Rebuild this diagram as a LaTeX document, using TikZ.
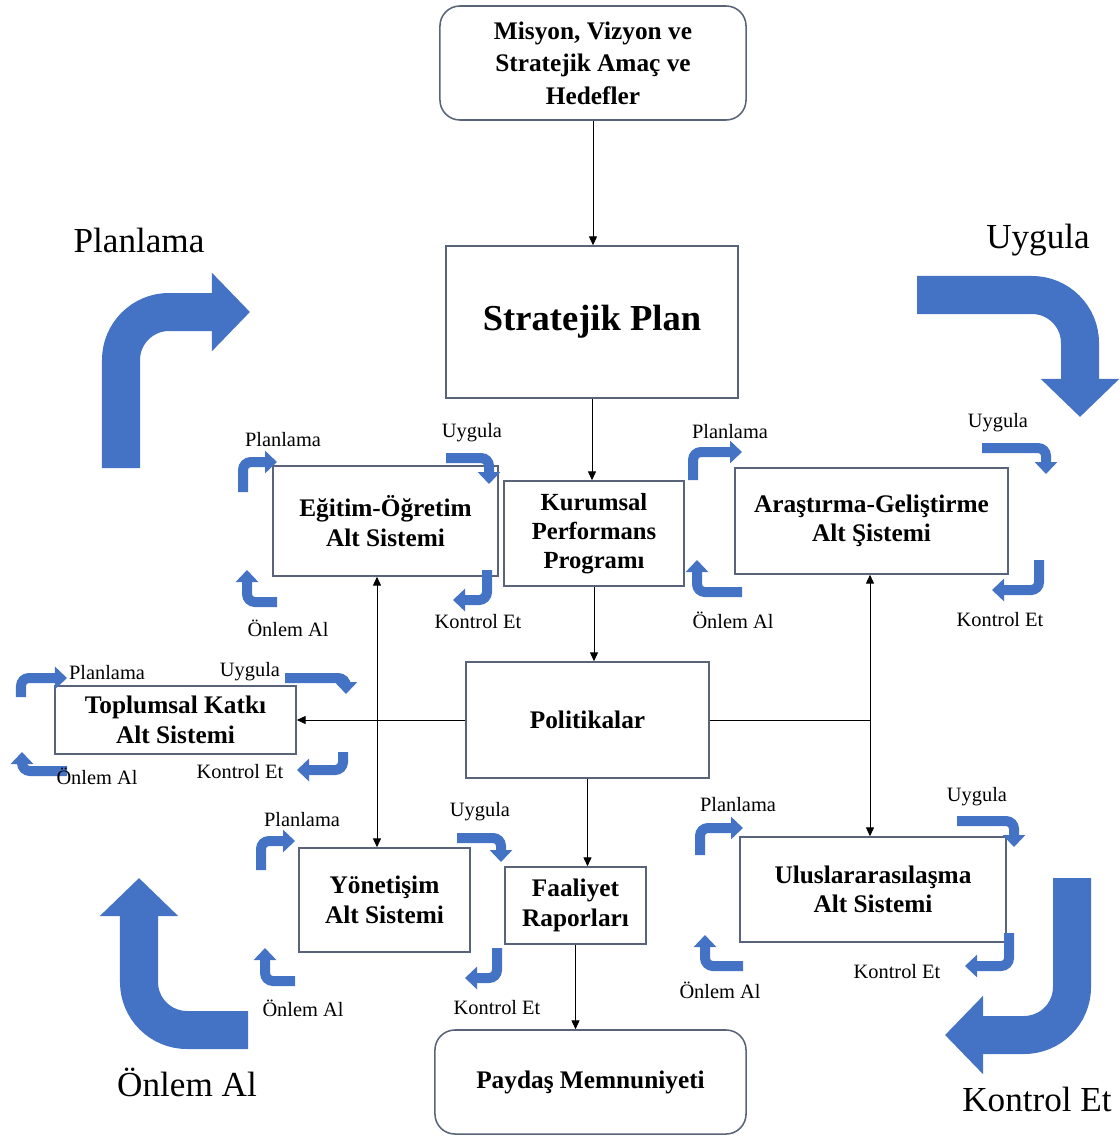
\documentclass[tikz,border=0pt]{standalone}
\usepackage{fontspec}
\setmainfont{Liberation Serif}
\usetikzlibrary{arrows.meta}
\definecolor{turnblue}{RGB}{68,114,196}
\definecolor{boxline}{RGB}{90,100,120}

\begin{document}
\begin{tikzpicture}[x=0.025cm, y=-0.025cm,
    box/.style={draw=boxline, line width=1.1pt, align=center, inner sep=2pt,
        font=\fontsize{18}{21}\selectfont\bfseries},
    rbox/.style={box, rounded corners=5mm},
    arr/.style={-{Triangle[length=2.2mm, width=2mm]}, line width=0.6pt},
    arrboth/.style={{Triangle[length=2.2mm, width=2mm]}-{Triangle[length=2.2mm, width=2mm]}, line width=0.6pt},
    smallturn/.style={draw=turnblue, line width=2.5mm, rounded corners=2mm,
        -{Triangle[length=3mm, width=5.5mm]}},
    bigturn/.style={draw=turnblue, line width=9.5mm, rounded corners=1.2cm,
        -{Triangle[length=9.5mm, width=19mm]}},
    lab/.style={font=\fontsize{14.5}{16}\selectfont},
    biglab/.style={font=\fontsize{25}{28}\selectfont}]
\useasboundingbox (0,0) rectangle (1119,1138);

% --- main column
\node[rbox, minimum width=7.65cm, minimum height=2.85cm,
    font=\fontsize{18}{23}\selectfont\bfseries] (mission) at (593,63)
    {Misyon, Vizyon ve\\Stratejik Amaç ve\\Hedefler};
\node[box, minimum width=7.3cm, minimum height=3.8cm,
    font=\fontsize{26}{30}\selectfont\bfseries] (plan) at (592,322) {Stratejik Plan};
\node[box, minimum width=4.5cm, minimum height=2.625cm,
    font=\fontsize{17.5}{20.5}\selectfont\bfseries] (kurum) at (594,533.5)
    {Kurumsal\\Performans\\Programı};
\node[box, minimum width=6.075cm, minimum height=2.9cm] (policy) at (587.5,720) {Politikalar};
\node[box, minimum width=3.525cm, minimum height=1.925cm] (report) at (575.5,905.5)
    {Faaliyet\\Raporları};
\node[rbox, minimum width=7.775cm, minimum height=2.6cm] (stake) at (590.5,1082)
    {Paydaş Memnuniyeti};

% --- sub systems
\node[box, minimum width=5.625cm, minimum height=2.75cm] (edu) at (385.5,521)
    {Eğitim-Öğretim\\Alt Sistemi};
\node[box, minimum width=6.825cm, minimum height=2.65cm] (rnd) at (871.5,521)
    {Araştırma-Geliştirme\\Alt Şistemi};
\node[box, minimum width=6.025cm, minimum height=1.7cm] (social) at (175.5,720)
    {Toplumsal Katkı\\Alt Sistemi};
\node[box, minimum width=4.275cm, minimum height=2.6cm] (gov) at (384.5,900)
    {Yönetişim\\Alt Sistemi};
\node[box, minimum width=6.65cm, minimum height=2.625cm] (intl) at (873,889.5)
    {Uluslararasılaşma\\Alt Sistemi};

% --- connectors
\draw[arr] (mission.south) -- (mission.south |- plan.north);
\draw[arr] (plan.south) -- (plan.south |- kurum.north);
\draw[arr] (kurum.south) -- (kurum.south |- policy.north);
\draw[arr] (policy.south) -- (policy.south |- report.north);
\draw[arr] (report.south) -- (report.south |- stake.north);
\draw[arr] (policy.west) -- (policy.west -| social.east);
\coordinate (jr) at (870,720);
\coordinate (jl) at (377,720);
\draw[line width=0.6pt] (policy.east) -- (jr);
\draw[arrboth] (jr |- rnd.south) -- (jr |- intl.north);
\draw[arrboth] (jl |- edu.south) -- (jl |- gov.north);

% --- cycle arrows, Eğitim-Öğretim
\draw[smallturn] (243,492) -- (243,462) -- (277,462);
\draw[smallturn] (446,458) -- (489,458) -- (489,484);
\draw[smallturn] (487,570) -- (487,600) -- (453,600);
\draw[smallturn] (277,602) -- (247,602) -- (247,570);
\node[lab] (eduP) at (283,440) {Planlama};
\node[lab] (eduU) at (472,433) {Uygula};
\node[lab] (eduK) at (478,622) {Kontrol Et};
\node[lab] (eduO) at (288,628) {Önlem Al};

% --- cycle arrows, Araştırma-Geliştirme
\draw[smallturn] (693,480) -- (693,452) -- (742,452);
\draw[smallturn] (982,448) -- (1046,448) -- (1046,474);
\draw[smallturn] (1039,560) -- (1039,590) -- (992,590);
\draw[smallturn] (742,592) -- (697,592) -- (697,560);
\node[lab] (rndP) at (730,432) {Planlama};
\node[lab] (rndU) at (998,423) {Uygula};
\node[lab] (rndK) at (1000,620) {Kontrol Et};
\node[lab] (rndO) at (733,620) {Önlem Al};

% --- cycle arrows, Toplumsal Katkı
\draw[smallturn] (21,697) -- (21,678) -- (67,678);
\draw[smallturn] (285,678) -- (346,678) -- (346,694);
\draw[smallturn] (343,752) -- (343,770) -- (297,770);
\draw[smallturn] (67,771) -- (22,771) -- (22,752);
\node[lab] (socP) at (107,673) {Planlama};
\node[lab] (socU) at (250,672) {Uygula};
\node[lab] (socK) at (240,772) {Kontrol Et};
\node[lab] (socO) at (97,776) {Önlem Al};

% --- cycle arrows, Yönetişim
\draw[smallturn] (261,870) -- (261,841) -- (295,841);
\draw[smallturn] (457,838) -- (501,838) -- (501,862);
\draw[smallturn] (497,948) -- (497,978) -- (465,978);
\draw[smallturn] (295,981) -- (265,981) -- (265,948);
\node[lab] (govP) at (302,820) {Planlama};
\node[lab] (govU) at (480,812) {Uygula};
\node[lab] (govK) at (497,1008) {Kontrol Et};
\node[lab] (govO) at (303,1008) {Önlem Al};

% --- cycle arrows, Uluslararasılaşma
\draw[smallturn] (700,855) -- (700,828) -- (743,828);
\draw[smallturn] (957,821) -- (1014,821) -- (1014,847);
\draw[smallturn] (1009,933) -- (1009,966) -- (965,966);
\draw[smallturn] (743,966) -- (705,966) -- (705,935);
\node[lab] (intlP) at (738,805) {Planlama};
\node[lab] (intlU) at (977,797) {Uygula};
\node[lab] (intlK) at (897,972) {Kontrol Et};
\node[lab] (intlO) at (720,990) {Önlem Al};

% --- big cycle
\draw[bigturn] (121,468) -- (121,312) -- (250,312);
\draw[bigturn] (917,295) -- (1080,295) -- (1080,417);
\draw[bigturn] (1072,878) -- (1072,1035) -- (945,1035);
\draw[bigturn] (248,1030) -- (139,1030) -- (139,878);
\node[biglab] (bigP) at (139,240) {Planlama};
\node[biglab] (bigU) at (1038,240) {Uygula};
\node[biglab] (bigO) at (187,1082) {Önlem Al};
\node[biglab] (bigK) at (1037,1099) {Kontrol Et};
\end{tikzpicture}
\end{document}
